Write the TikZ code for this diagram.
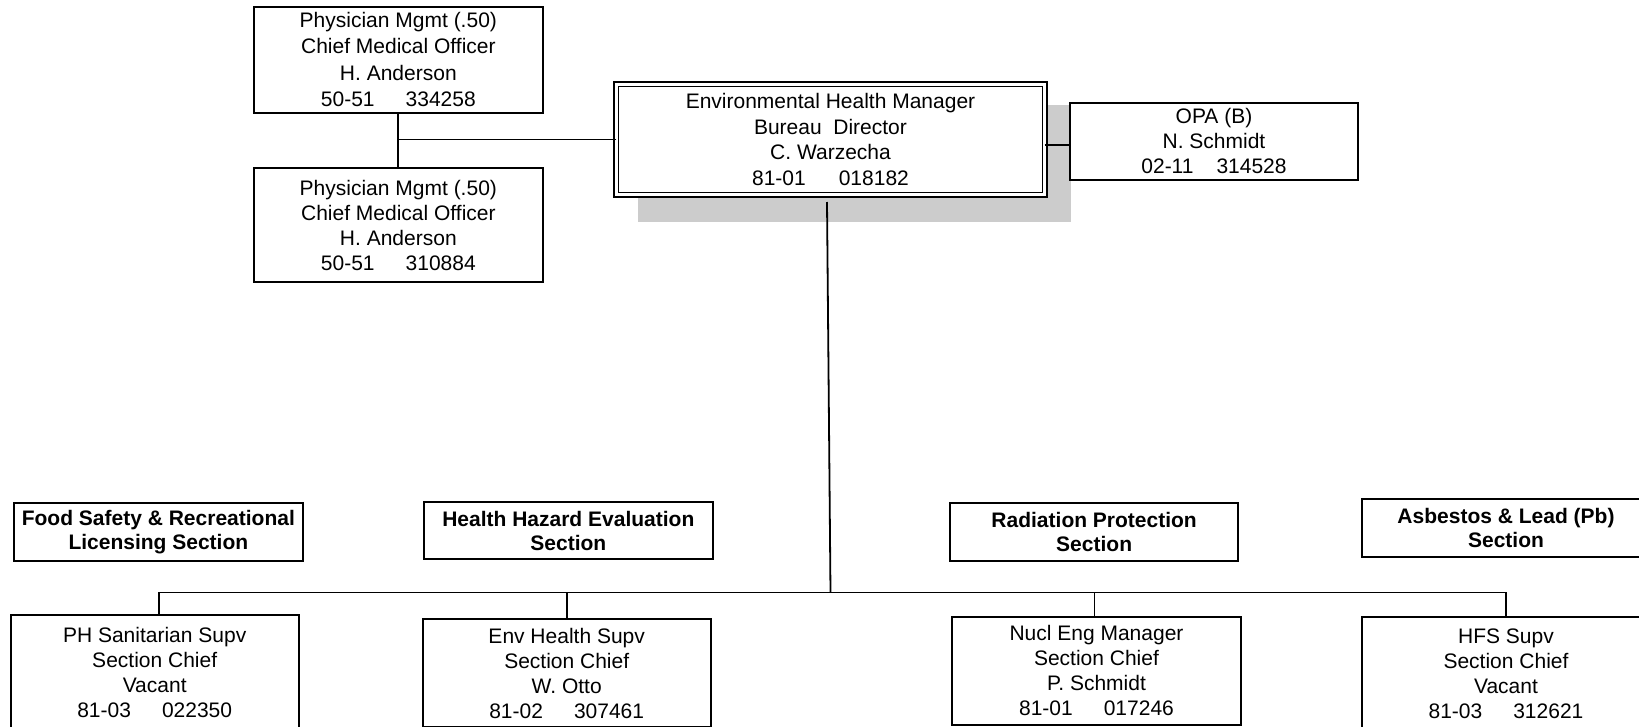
\documentclass[tikz,border=0pt]{standalone}
\usepackage{fontspec}
\setmainfont{Liberation Sans}
\begin{document}
\begin{tikzpicture}[x=1pt,y=-1pt,
  box/.style={draw, line width=1.8pt, fill=white, inner sep=0pt, outer sep=0pt,
    anchor=north west, align=center, font=\fontsize{21}{25}\selectfont},
  secbox/.style={box, font=\fontsize{21}{24}\selectfont\bfseries},
  conn/.style={line width=1.8pt},
  shadowfill/.style={fill=black!20}]
\useasboundingbox (0,0) rectangle (1639,726);

% shadow of the manager box
\fill[shadowfill] (637.7,104.7) rectangle (1071,221.7);

% top level
\node[box, minimum width=288.7pt, minimum height=106pt, font=\fontsize{21}{26.5}\selectfont] (p1) at (254,6.7)
  {Physician Mgmt (.50)\\Chief Medical Officer\\H. Anderson\\50-51\hspace{31pt}334258};
\node[box, minimum width=288.7pt, minimum height=113.4pt] (p2) at (254,168.3)
  {Physician Mgmt (.50)\\Chief Medical Officer\\H. Anderson\\50-51\hspace{31pt}310884};
\node[box, double, line width=1.5pt, double distance=3.2pt, minimum width=428.3pt, minimum height=110.3pt, font=\fontsize{21}{25.5}\selectfont] (mgr) at (616.35,84.35)
  {Environmental Health Manager\\Bureau\ \ Director\\C. Warzecha\\81-01\hspace{33pt}018182};
\node[box, minimum width=288pt, minimum height=77.3pt] (opa) at (1070,102.7)
  {OPA (B)\\N. Schmidt\\02-11\hspace{23pt}314528};

% section titles
\node[secbox, minimum width=288.7pt, minimum height=57.7pt] (food) at (14,503.3)
  {Food Safety \& Recreational\\Licensing Section};
\node[secbox, minimum width=288.7pt, minimum height=57.6pt] (health) at (424,501.7)
  {Health Hazard Evaluation\\Section};
\node[secbox, minimum width=288.3pt, minimum height=57.7pt] (rad) at (950,503.3)
  {Radiation Protection\\Section};
\node[secbox, minimum width=288pt, minimum height=58.3pt] (asb) at (1362,499)
  {Asbestos \& Lead (Pb)\\Section};

% section chiefs
\node[box, minimum width=288pt, minimum height=116pt] (ph) at (10.7,614.7)
  {PH Sanitarian Supv\\Section Chief\\Vacant\\81-03\hspace{31pt}022350};
\node[box, minimum width=288pt, minimum height=108pt] (env) at (422.7,619)
  {Env Health Supv\\Section Chief\\W. Otto\\81-02\hspace{31pt}307461};
\node[box, minimum width=288.4pt, minimum height=108.3pt] (nucl) at (952.3,616.7)
  {Nucl Eng Manager\\Section Chief\\P. Schmidt\\81-01\hspace{31pt}017246};
\node[box, minimum width=288pt, minimum height=112pt] (hfs) at (1362,617.3)
  {HFS Supv\\Section Chief\\Vacant\\81-03\hspace{31pt}312621};

% connectors
\draw[conn] (p1.south) -- (p2.north);
\draw[conn] (mgr.west) -- (mgr.west -| p1.south);
\draw[conn] ([yshift=-5.5pt]mgr.east) -- ([yshift=-5.5pt]mgr.east -| opa.west);

\coordinate (mtop) at (827,202);
\coordinate (bus) at (830.5,592.5);
\draw[conn] (mtop) -- (bus);
\draw[conn] ([xshift=4pt]ph.north) -- ([xshift=4pt]ph.north |- bus) -- (hfs.north |- bus) -- (hfs.north);
\draw[conn] (env.north) -- (env.north |- bus);
\draw[conn] ([xshift=-2pt]nucl.north) -- ([xshift=-2pt]nucl.north |- bus);
\end{tikzpicture}
\end{document}
